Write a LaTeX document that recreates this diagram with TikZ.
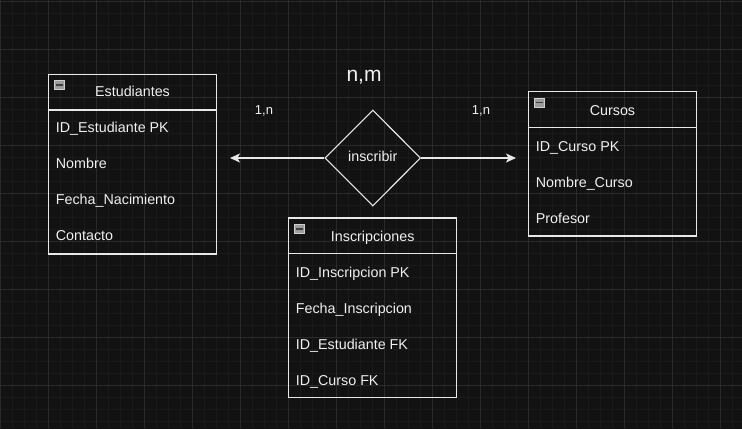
\documentclass[tikz,border=0pt]{standalone}
\usepackage{fontspec}
\setmainfont{Liberation Sans}
\usetikzlibrary{shapes.geometric,arrows.meta}
\definecolor{bg}{HTML}{121212}
\definecolor{minorg}{HTML}{1A1A1A}
\definecolor{majorg}{HTML}{2A2A2A}
\definecolor{ink}{HTML}{E8E8E8}
\definecolor{txt}{HTML}{F0F0F0}
\definecolor{iconf}{HTML}{9C9C9C}
\definecolor{icond}{HTML}{D0D0D0}
\tikzset{
  tbl/.style={draw=ink, line width=1.1pt, inner sep=0pt},
  hline/.style={draw=ink, line width=1.1pt},
  hdr/.style={text=txt, font=\fontsize{14.3}{16}\selectfont, anchor=base, inner sep=0pt},
  row/.style={text=txt, font=\fontsize{14.3}{16}\selectfont, anchor=base west, inner sep=0pt},
  lbl/.style={text=txt, font=\fontsize{13}{15}\selectfont, anchor=base, inner sep=0pt},
  big/.style={text=txt, font=\fontsize{21}{24}\selectfont, anchor=base, inner sep=0pt},
  rel/.style={diamond, draw=ink, line width=1.1pt, minimum width=95.7pt, minimum height=96pt, inner sep=0pt, aspect=1},
  conn/.style={draw=ink, line width=1.2pt, -{Stealth[length=10pt,width=9pt,inset=2.5pt]}},
  icon/.style={fill=iconf, draw=icond, line width=0.6pt, minimum width=10pt, minimum height=9pt, inner sep=0pt},
}
\newcommand{\tblicon}[2]{%
  \node[icon] (#1) at (#2) {};
  \draw[black!75, line width=1.3pt] ([xshift=2pt]#1.west) -- ([xshift=-2pt]#1.east);
}
\begin{document}
\begin{tikzpicture}[x=1pt,y=-1pt]
\fill[bg] (0,0) rectangle (742,429);
\useasboundingbox (0,0) rectangle (742,429);
% grid
\foreach \x in {0,12,...,744} \draw[minorg, line width=0.8pt] (\x,0) -- (\x,429);
\foreach \y in {1,13,...,433} \draw[minorg, line width=0.8pt] (0,\y) -- (742,\y);
\foreach \x in {0,48,...,744} \draw[majorg, line width=1pt] (\x,0) -- (\x,429);
\foreach \y in {1,49,...,433} \draw[majorg, line width=1pt] (0,\y) -- (742,\y);

% Estudiantes
\node[tbl, minimum width=168.4pt, minimum height=179.7pt] (est) at (132.5,164.15) {};
\draw[hline] (est.west |- 0,110) -- (est.east |- 0,110);
\tblicon{esti}{59.5,85}
\node[hdr] (esth) at (132.5,96.7) {Estudiantes};
\node[row] (est1) at (55.7,132.7) {ID\_Estudiante PK};
\node[row] (est2) at (55.7,168.7) {Nombre};
\node[row] (est3) at (55.7,204.7) {Fecha\_Nacimiento};
\node[row] (est4) at (55.7,240.7) {Contacto};

% Cursos
\node[tbl, minimum width=168.4pt, minimum height=144.3pt] (cur) at (612.5,163.85) {};
\draw[hline] (cur.west |- 0,127.7) -- (cur.east |- 0,127.7);
\tblicon{curi}{539.5,102.7}
\node[hdr] (curh) at (612.5,115) {Cursos};
\node[row] (cur1) at (535.7,151) {ID\_Curso PK};
\node[row] (cur2) at (535.7,187) {Nombre\_Curso};
\node[row] (cur3) at (535.7,223) {Profesor};

% Inscripciones
\node[tbl, minimum width=168pt, minimum height=179.7pt] (ins) at (372.7,307.85) {};
\draw[hline] (ins.west |- 0,253.7) -- (ins.east |- 0,253.7);
\tblicon{insi}{299.5,229}
\node[hdr] (insh) at (372.7,241) {Inscripciones};
\node[row] (ins1) at (295.7,277) {ID\_Inscripcion PK};
\node[row] (ins2) at (295.7,313) {Fecha\_Inscripcion};
\node[row] (ins3) at (295.7,349) {ID\_Estudiante FK};
\node[row] (ins4) at (295.7,385) {ID\_Curso FK};

% relation
\node[rel] (insc) at (372.8,158) {};
\node[hdr] (insct) at (372.8,161.7) {inscribir};
\coordinate (lend) at (230,158);
\coordinate (rend) at (516,158);
\draw[conn] (insc.west) -- (lend);
\draw[conn] (insc.east) -- (rend);

% labels
\node[big] (nm) at (364,81.5) {n,m};
\node[lbl] (l1) at (264,114.5) {1,n};
\node[lbl] (l2) at (481,114.5) {1,n};
\end{tikzpicture}
\end{document}
